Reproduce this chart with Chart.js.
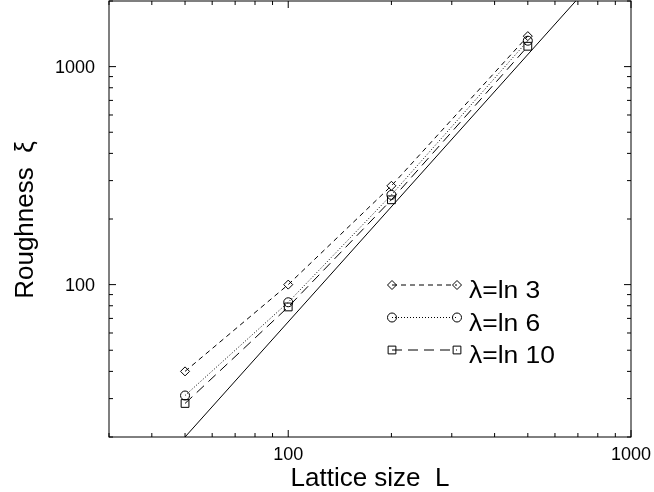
<!DOCTYPE html>
<html>
<head>
<meta charset="utf-8">
<script src="https://cdn.jsdelivr.net/npm/chart.js@4.4.1/dist/chart.umd.min.js"></script>
<style>
  html, body { margin: 0; padding: 0; background: #fff; }
  #wrap { width: 654px; height: 492px; }
</style>
</head>
<body>
<div id="wrap"><canvas id="mycanvas" width="654" height="492"></canvas></div>
<script>
// lattice sizes L and roughness xi
var sizes = [50, 100, 200, 500];
var xiLn3 = [40, 100, 284, 1380];
var xiLn6 = [31, 83, 258, 1315];
var xiLn10 = [28.5, 79, 245, 1240];
var seriesNames = ['\u03bb=ln 3', '\u03bb=ln 6', '\u03bb=ln 10'];

// reference power-law line, end points as read
var fitL = [50, 690];
var fitXi = [20, 2000];

// ticks
var xTicks = [30, 40, 50, 60, 70, 80, 90, 100, 200, 300, 400, 500, 600, 700, 800, 900, 1000];
var yTicks = [20, 30, 40, 50, 60, 70, 80, 90, 100, 200, 300, 400, 500, 600, 700, 800, 900, 1000, 2000];
var xLabeled = [100, 1000];
var yLabeled = [100, 1000];

var FONT = '"Liberation Sans", Arial, sans-serif';

function pts(xs, ys) {
	var out = [];
	for (var i in xs) out.push({x: xs[i], y: ys[i]});
	return out;
}

function marker(ctx, style, x, y, r) {
	ctx.beginPath();
	if (style == 'circle') {
		ctx.arc(x, y, r, 0, Math.PI * 2);
	} else if (style == 'rect') {
		var s = r * Math.SQRT1_2;
		ctx.rect(x - s, y - s, 2 * s, 2 * s);
	} else {
		ctx.moveTo(x, y - r); ctx.lineTo(x + r, y); ctx.lineTo(x, y + r); ctx.lineTo(x - r, y); ctx.closePath();
	}
	ctx.stroke();
}

var styles = [
	{dash: [5, 4], point: 'rectRot', r: 4.5},
	{dash: [1, 2], point: 'circle', r: 4.5},
	{dash: [10, 6], point: 'rect', r: 5.5}
];

var frame = {
	id: 'frame',
	afterDraw: function(chart) {
		var ctx = chart.ctx, a = chart.chartArea;
		var xs = chart.scales.x, ys = chart.scales.y;
		ctx.save();
		ctx.strokeStyle = '#000';
		ctx.fillStyle = '#000';
		ctx.lineWidth = 1;
		ctx.setLineDash([]);
		ctx.strokeRect(a.left, a.top, a.right - a.left, a.bottom - a.top);
		ctx.beginPath();
		xTicks.forEach(function(v) {
			var p = xs.getPixelForValue(v);
			var len = xLabeled.indexOf(v) >= 0 ? 7 : 4;
			ctx.moveTo(p, a.bottom); ctx.lineTo(p, a.bottom - len);
			ctx.moveTo(p, a.top); ctx.lineTo(p, a.top + len);
		});
		yTicks.forEach(function(v) {
			var p = ys.getPixelForValue(v);
			var len = yLabeled.indexOf(v) >= 0 ? 7 : 4;
			ctx.moveTo(a.left, p); ctx.lineTo(a.left + len, p);
			ctx.moveTo(a.right, p); ctx.lineTo(a.right - len, p);
		});
		ctx.stroke();

		// tick labels
		ctx.font = '18px ' + FONT;
		ctx.textAlign = 'center';
		ctx.textBaseline = 'alphabetic';
		xLabeled.forEach(function(v) {
			ctx.fillText(String(v), xs.getPixelForValue(v), a.bottom + 23);
		});
		ctx.textAlign = 'right';
		ctx.textBaseline = 'middle';
		yLabeled.forEach(function(v) {
			ctx.fillText(String(v), a.left - 14, ys.getPixelForValue(v) + 1);
		});

		// legend
		for (var i = 0; i < 3; i++) {
			var y = 285 + i * 32.5;
			ctx.setLineDash(styles[i].dash);
			ctx.beginPath();
			ctx.moveTo(392, y); ctx.lineTo(457, y);
			ctx.stroke();
			ctx.setLineDash([]);
			marker(ctx, styles[i].point, 392, y, styles[i].r);
			marker(ctx, styles[i].point, 457, y, styles[i].r);
			ctx.save();
			ctx.translate(469, y + 13);
			ctx.scale(1.15, 1);
			ctx.font = '23px ' + FONT;
			ctx.textAlign = 'left';
			ctx.textBaseline = 'alphabetic';
			ctx.fillText(seriesNames[i], 0, 0);
			ctx.restore();
		}

		// axis titles
		ctx.font = '26px ' + FONT;
		ctx.textAlign = 'center';
		ctx.textBaseline = 'alphabetic';
		ctx.fillText('Lattice size  L', 370, 486);
		ctx.save();
		ctx.translate(33, 220);
		ctx.rotate(-Math.PI / 2);
		ctx.fillText('Roughness  \u03be', 0, 0);
		ctx.restore();
		ctx.restore();
	}
};

var datasets = [];
var series = [xiLn3, xiLn6, xiLn10];
for (var i in series) {
	datasets.push({
		label: seriesNames[i],
		data: pts(sizes, series[i]),
		borderColor: '#000',
		backgroundColor: 'rgba(0,0,0,0)',
		borderWidth: 1,
		borderDash: styles[i].dash,
		pointStyle: styles[i].point,
		pointRadius: styles[i].r,
		pointBorderWidth: 1,
		pointBorderColor: '#000',
		pointBackgroundColor: 'rgba(0,0,0,0)',
		showLine: true,
		fill: false
	});
}
datasets.push({
	label: 'fit',
	data: pts(fitL, fitXi),
	borderColor: '#000',
	borderWidth: 1,
	pointRadius: 0,
	showLine: true,
	fill: false
});

var ctx = document.getElementById('mycanvas');
var chart = new Chart(ctx, {
	type: 'scatter',
	data: {datasets: datasets},
	options: {
		responsive: false,
		animation: false,
		devicePixelRatio: 1,
		layout: {autoPadding: false, padding: {top: 1, right: 23, left: 0, bottom: 0}},
		plugins: {legend: {display: false}, tooltip: {enabled: false}},
		scales: {
			x: {
				type: 'logarithmic',
				min: 30, max: 1000,
				grid: {display: false, drawTicks: false},
				border: {display: false},
				ticks: {display: false},
				afterFit: function(s) { s.height = 55; }
			},
			y: {
				type: 'logarithmic',
				min: 20, max: 2000,
				grid: {display: false, drawTicks: false},
				border: {display: false},
				ticks: {display: false},
				afterFit: function(s) { s.width = 109; }
			}
		}
	},
	plugins: [frame]
});
</script>
</body>
</html>
